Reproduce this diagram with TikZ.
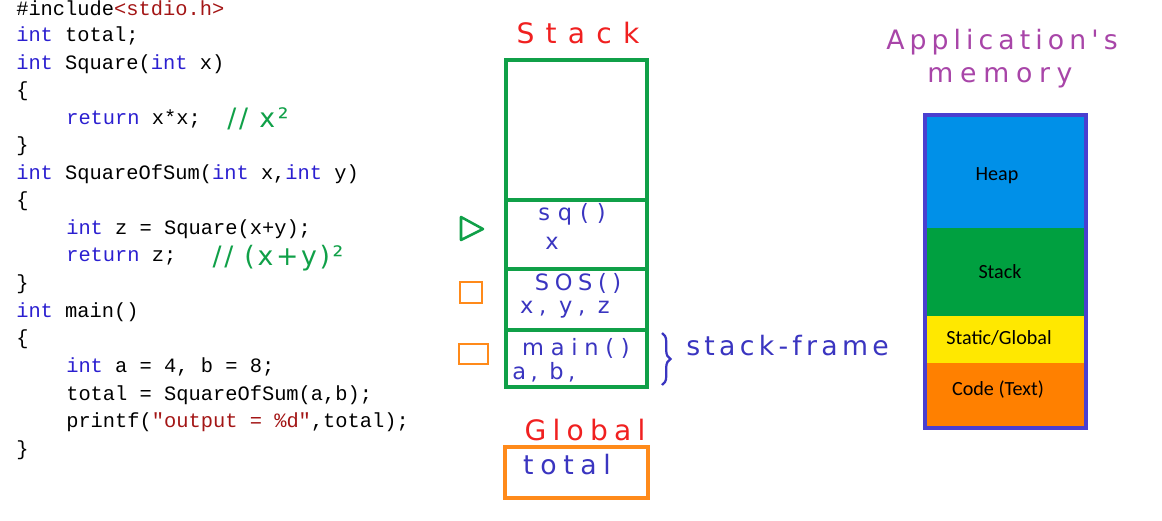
\documentclass[tikz,border=0pt]{standalone}
\usepackage{fontspec}
\usepackage{xcolor}
\usepackage{tikz}
\usetikzlibrary{positioning,calc,decorations.pathreplacing}
\setmonofont{Liberation Mono}
\newfontfamily\handfont{DejaVu Sans}
\newfontfamily\labelfont{Carlito}

\definecolor{kwblue}{HTML}{2B1FD0}
\definecolor{strred}{HTML}{A31515}
\definecolor{penred}{HTML}{F02020}
\definecolor{pengreen}{HTML}{10A048}
\definecolor{penblue}{HTML}{3A35C0}
\definecolor{penorange}{HTML}{FF8A1A}
\definecolor{penpurple}{HTML}{A845A8}
\definecolor{heapblue}{HTML}{0090E8}
\definecolor{stackgreen}{HTML}{00A040}
\definecolor{staticyellow}{HTML}{FFE800}
\definecolor{codeorange}{HTML}{FF8000}
\definecolor{memborder}{HTML}{4A3FD0}

\newcommand{\kw}[1]{\textcolor{kwblue}{#1}}
\newcommand{\lit}[1]{\textcolor{strred}{#1}}

\tikzset{
  code/.style={anchor=west, inner sep=0pt, font=\ttfamily\fontsize{14.5}{17}\selectfont},
  hand/.style 2 args={inner sep=0pt, font=\handfont\fontsize{#1}{#1}\selectfont\addfontfeatures{LetterSpace=#2}},
  frameline/.style={pengreen, line width=2.2pt},
  memlabel/.style={inner sep=0pt, font=\labelfont\fontsize{14.3}{16}\selectfont}
}

\begin{document}
\begin{tikzpicture}[x=0.025cm, y=-0.025cm]
    \useasboundingbox (0,0) rectangle (1162,520);

    % Source code
    \node[code] (l1) at (16,8) {\#include\lit{<stdio.h>}};
    \node[code] (l2) at (16,36) {\kw{int} total;};
    \node[code] (l3) at (16,64) {\kw{int} Square(\kw{int} x)};
    \node[code] (l4) at (16,91) {\{};
    \node[code] (l5) at (66,119) {\kw{return} x*x;};
    \node[code] (l6) at (16,146) {\}};
    \node[code] (l7) at (16,174) {\kw{int} SquareOfSum(\kw{int} x,\kw{int} y)};
    \node[code] (l8) at (16,201) {\{};
    \node[code] (l9) at (66,229) {\kw{int} z = Square(x+y);};
    \node[code] (l10) at (66,257) {\kw{return} z;};
    \node[code] (l11) at (16,284) {\}};
    \node[code] (l12) at (16,312) {\kw{int} main()};
    \node[code] (l13) at (16,339) {\{};
    \node[code] (l14) at (66,367) {\kw{int} a = 4, b = 8;};
    \node[code] (l15) at (66,395) {total = SquareOfSum(a,b);};
    \node[code] (l16) at (66,422) {printf(\lit{"output = \%d"},total);};
    \node[code] (l17) at (16,450) {\}};

    % Comments written in pen
    \node[hand={19}{10}, pengreen] (c1) at (258,119) {// x²};
    \node[hand={19}{10}, pengreen] (c2) at (278,258) {// (x+y)²};

    % Stack
    \node[hand={20}{40}, penred] (stacklbl) at (578,33) {Stack};
    \draw[frameline] (506,60) rectangle (647,387);
    \draw[frameline] (506,200) -- (647,200);
    \draw[frameline] (506,269) -- (647,269);
    \draw[frameline] (506,330) -- (647,330);

    \node[hand={16}{35}, penblue] (sq) at (572,214) {sq()};
    \node[hand={16}{35}, penblue] (sqx) at (552,243) {x};
    \node[hand={16}{25}, penblue] (sos) at (578,283) {SOS()};
    \node[hand={16}{25}, penblue] (sosv) at (565,310) {x, y, z};
    \node[hand={16}{30}, penblue] (mainf) at (576,348) {main()};
    \node[hand={16}{20}, penblue, anchor=west] (mainv) at (512,372) {a, b,};

    % Markers
    \draw[pengreen, line width=1.8pt, line join=round] (461,217) -- (483,229) -- (461,240) -- cycle;
    \draw[penorange, line width=1.8pt] (460,282) rectangle (482,303);
    \draw[penorange, line width=1.8pt] (459,344) rectangle (488,364);

    % Stack-frame brace
    \coordinate (bt) at (662,333);
    \coordinate (bb) at (662,385);
    \draw[penblue, line width=1.6pt, decorate, decoration={brace, amplitude=6pt}] (bt) -- (bb);
    \node[hand={19}{16}, penblue, anchor=west] (sframe) at (686,346) {stack-frame};

    % Global
    \node[hand={20}{22}, penred] (globlbl) at (585,430) {Global};
    \draw[penorange, line width=2.2pt] (505,447) rectangle (648,498);
    \node[hand={19}{25}, penblue] (tot) at (567,465) {total};

    % Application's memory
    \node[hand={19}{19}, penpurple] (app) at (1002,42) {Application's};
    \node[hand={19}{25}, penpurple] (mem) at (1000,78) {memory};

    \fill[heapblue] (925,115) rectangle (1086,228);
    \fill[stackgreen] (925,228) rectangle (1086,316);
    \fill[staticyellow] (925,316) rectangle (1086,363);
    \fill[codeorange] (925,363) rectangle (1086,428);
    \draw[memborder, line width=2.8pt] (925,115) rectangle (1086,428);

    \node[memlabel] (heap) at (997,176) {Heap};
    \node[memlabel] (stk) at (1000,272) {Stack};
    \node[memlabel] (stat) at (999,338) {Static/Global};
    \node[memlabel] (cod) at (998,390) {Code (Text)};
\end{tikzpicture}
\end{document}
